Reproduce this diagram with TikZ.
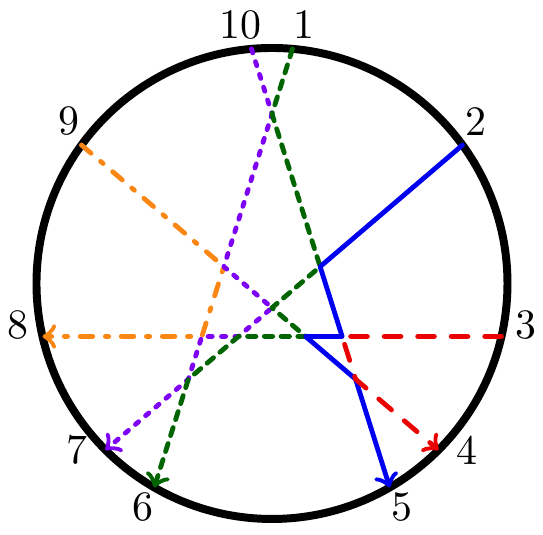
\documentclass[tikz,border=0pt]{standalone}
\definecolor{myred}{RGB}{235,0,0}
\definecolor{myblue}{RGB}{0,0,240}
\definecolor{mygreen}{RGB}{0,100,0}
\definecolor{mypurple}{RGB}{125,0,245}
\definecolor{myorange}{RGB}{250,135,20}
\tikzset{
  ray/.style={line width=1.15pt, line cap=round, line join=round, ->},
  redray/.style={ray, draw=myred, dash pattern=on 4pt off 4pt},
  blueray/.style={ray, draw=myblue},
  greenray/.style={ray, draw=mygreen, dash pattern=on 2pt off 2pt},
  purpleray/.style={ray, draw=mypurple, dash pattern=on 1pt off 2.2pt},
  orangeray/.style={ray, draw=myorange, dash pattern=on 3pt off 3pt on 0.8pt off 3pt},
  rim/.style={line width=1.9pt, draw=black},
  lab/.style={inner sep=0pt}
}
\begin{document}
\begin{tikzpicture}[x=0.2387pt, y=0.2387pt]
\useasboundingbox (-272,-251.5) rectangle (271,283.5);
\coordinate (O) at (0,0);
\draw[rim] (O) circle (235.5);
% points on the circle
\coordinate (P1) at (85:235.5);
\coordinate (P2) at (36:235.5);
\coordinate (P3) at (-13:235.5);
\coordinate (P4) at (-45:235.5);
\coordinate (P5) at (-60:235.5);
\coordinate (P6) at (-120:235.5);
\coordinate (P7) at (-135:235.5);
\coordinate (P8) at (-167:235.5);
\coordinate (P9) at (144:235.5);
\coordinate (P10) at (95:235.5);
% crossings of the five chords
\coordinate (A) at (intersection of P1--P6 and P10--P5);
\coordinate (B) at (intersection of P10--P5 and P2--P7);
\coordinate (C) at (intersection of P10--P5 and P3--P8);
\coordinate (D) at (intersection of P9--P4 and P3--P8);
\coordinate (E) at (intersection of P10--P5 and P9--P4);
\coordinate (F) at (intersection of P2--P7 and P9--P4);
\coordinate (G) at (intersection of P1--P6 and P9--P4);
\coordinate (H) at (intersection of P1--P6 and P3--P8);
\coordinate (I) at (intersection of P1--P6 and P2--P7);
\coordinate (J) at (intersection of P2--P7 and P3--P8);
% paths
\draw[orangeray] (P9) -- (G) -- (H) -- (P8);
\draw[purpleray] (P10) -- (A) -- (G) -- (F) -- (J) -- (H) -- (I) -- (P7);
\draw[greenray] (P1) -- (A) -- (B) -- (F) -- (D) -- (J) -- (I) -- (P6);
\draw[blueray] (P2) -- (B) -- (C) -- (D) -- (E) -- (P5);
\draw[redray] (P3) -- (C) -- (E) -- (P4);
% labels
\node[lab] (L1) at (31.5,258.5) {1};
\node[lab] (L10) at (-31.5,258.5) {10};
\node[lab] (L2) at (203.5,162) {2};
\node[lab] (L9) at (-203.5,162) {9};
\node[lab] (L3) at (254,-41.5) {3};
\node[lab] (L8) at (-254,-41.5) {8};
\node[lab] (L4) at (195,-166.5) {4};
\node[lab] (L7) at (-195,-166.5) {7};
\node[lab] (L5) at (129.5,-223.5) {5};
\node[lab] (L6) at (-129.5,-223.5) {6};
\end{tikzpicture}
\end{document}
